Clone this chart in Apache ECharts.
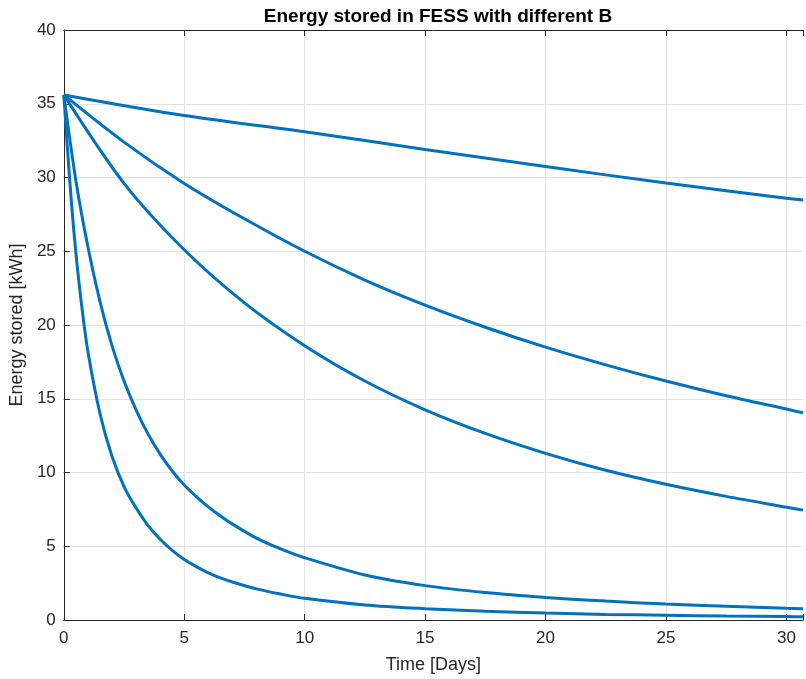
<!DOCTYPE html>
<html>
<head>
<meta charset="utf-8">
<title>Energy stored in FESS</title>
<script src="https://cdn.jsdelivr.net/npm/echarts@6/dist/echarts.min.js"></script>
<style>
  html, body { margin: 0; padding: 0; background: #fff; }
  #chart { width: 806px; height: 679px; }
</style>
</head>
<body>
<div id="chart"></div>
<script>
// time [days] / energy [kWh] for each B
const t1 = [0, 5, 10, 15, 20, 25, 30, 30.69];
const e1 = [35.6, 34.2, 33.1, 31.9, 30.75, 29.62, 28.6, 28.47];

const t2 = [0, 2.5, 5, 7.5, 10, 12.5, 15, 17.5, 20, 22.5, 25, 27.5, 30, 30.69];
const e2 = [35.6, 32.4, 29.6, 27.2, 25.0, 23.05, 21.35, 19.85, 18.5, 17.3, 16.2, 15.2, 14.3, 14.05];

const t3 = [0, 2.5, 5, 7.5, 10, 12.5, 15, 17.5, 20, 22.5, 25, 27.5, 30, 30.69];
const e3 = [35.6, 29.6, 25.1, 21.5, 18.6, 16.2, 14.25, 12.65, 11.3, 10.15, 9.2, 8.38, 7.65, 7.45];

const t4 = [0, 0.5, 1, 1.5, 2, 2.5, 3, 3.5, 4, 4.5, 5, 5.5, 6, 6.5, 7, 8, 9, 10, 12.5, 15, 17.5, 20, 22.5, 25, 27.5, 30, 30.69];
const e4 = [35.6, 29.8, 25.3, 21.6, 18.6, 16.2, 14.25, 12.6, 11.25, 10.1, 9.15, 8.37, 7.67, 7.05, 6.5, 5.55, 4.82, 4.22, 3.05, 2.33, 1.86, 1.53, 1.28, 1.08, 0.93, 0.79, 0.76];

const t5 = [0, 0.25, 0.5, 0.75, 1, 1.5, 2, 2.5, 3, 3.5, 4, 4.5, 5, 5.5, 6, 6.5, 7, 8, 9, 10, 12.5, 15, 17.5, 20, 22.5, 25, 27.5, 30, 30.69];
const e5 = [35.6, 29.7, 24.9, 21.2, 18.2, 14.0, 11.1, 9.05, 7.6, 6.4, 5.47, 4.72, 4.1, 3.62, 3.2, 2.86, 2.58, 2.11, 1.76, 1.47, 1.02, 0.77, 0.59, 0.47, 0.38, 0.32, 0.27, 0.23, 0.22];

const yTicks = [0, 5, 10, 15, 20, 25, 30, 35, 40];

const curves = [[t1, e1], [t2, e2], [t3, e3], [t4, e4], [t5, e5]];

const chart = echarts.init(document.getElementById('chart'));
const axisCol = '#262626';
const font = '"Liberation Sans", Arial, Helvetica, sans-serif';

const option = {
  backgroundColor: '#fff',
  animation: false,
  title: {
    text: 'Energy stored in FESS with different B',
    left: 433,
    textAlign: 'center',
    top: 2,
    textStyle: { fontFamily: font, fontSize: 19, fontWeight: 'bold', color: '#000' }
  },
  grid: { left: 63, top: 30, right: 0, bottom: 57 },
  xAxis: [
    {
      type: 'value',
      min: 0,
      max: 30.69,
      interval: 5,
      name: 'Time [Days]',
      nameLocation: 'middle',
      nameGap: 36,
      nameTextStyle: { fontFamily: font, fontSize: 18, color: axisCol },
      axisLine: { lineStyle: { color: axisCol, width: 1 } },
      axisTick: { inside: true, length: 6, lineStyle: { color: axisCol } },
      axisLabel: {
        margin: 10,
        fontFamily: font,
        fontSize: 17,
        color: axisCol,
        formatter: v => (v % 5 === 0 ? String(v) : '')
      },
      splitLine: { show: true, showMaxLine: false, lineStyle: { color: '#e3e3e3', width: 1 } }
    },
    {
      // top box edge
      type: 'value',
      position: 'top',
      min: 0,
      max: 30.69,
      interval: 5,
      axisLine: { show: true, onZero: false, lineStyle: { color: axisCol, width: 1 } },
      axisTick: { inside: true, length: 6, lineStyle: { color: axisCol } },
      axisLabel: { show: false },
      splitLine: { show: false }
    }
  ],
  yAxis: {
    type: 'value',
    min: yTicks[0],
    max: yTicks[yTicks.length - 1],
    interval: 5,
    name: 'Energy stored [kWh]',
    nameLocation: 'middle',
    nameGap: 29,
    nameTextStyle: { fontFamily: font, fontSize: 18, color: axisCol },
    axisLine: { show: true, lineStyle: { color: axisCol, width: 1 } },
    axisTick: { show: true, inside: true, length: 6, lineStyle: { color: axisCol } },
    axisLabel: { margin: 8, fontFamily: font, fontSize: 17, color: axisCol },
    splitLine: { show: true, lineStyle: { color: '#e3e3e3', width: 1 } }
  },
  series: curves.map(([t, e], i) => ({
    name: 'B' + (i + 1),
    type: 'line',
    showSymbol: false,
    smooth: 0.3,
    clip: true,
    lineStyle: { color: '#0072BD', width: 3 },
    data: t.map((x, k) => [x, e[k]])
  }))
};

chart.setOption(option);
</script>
</body>
</html>
